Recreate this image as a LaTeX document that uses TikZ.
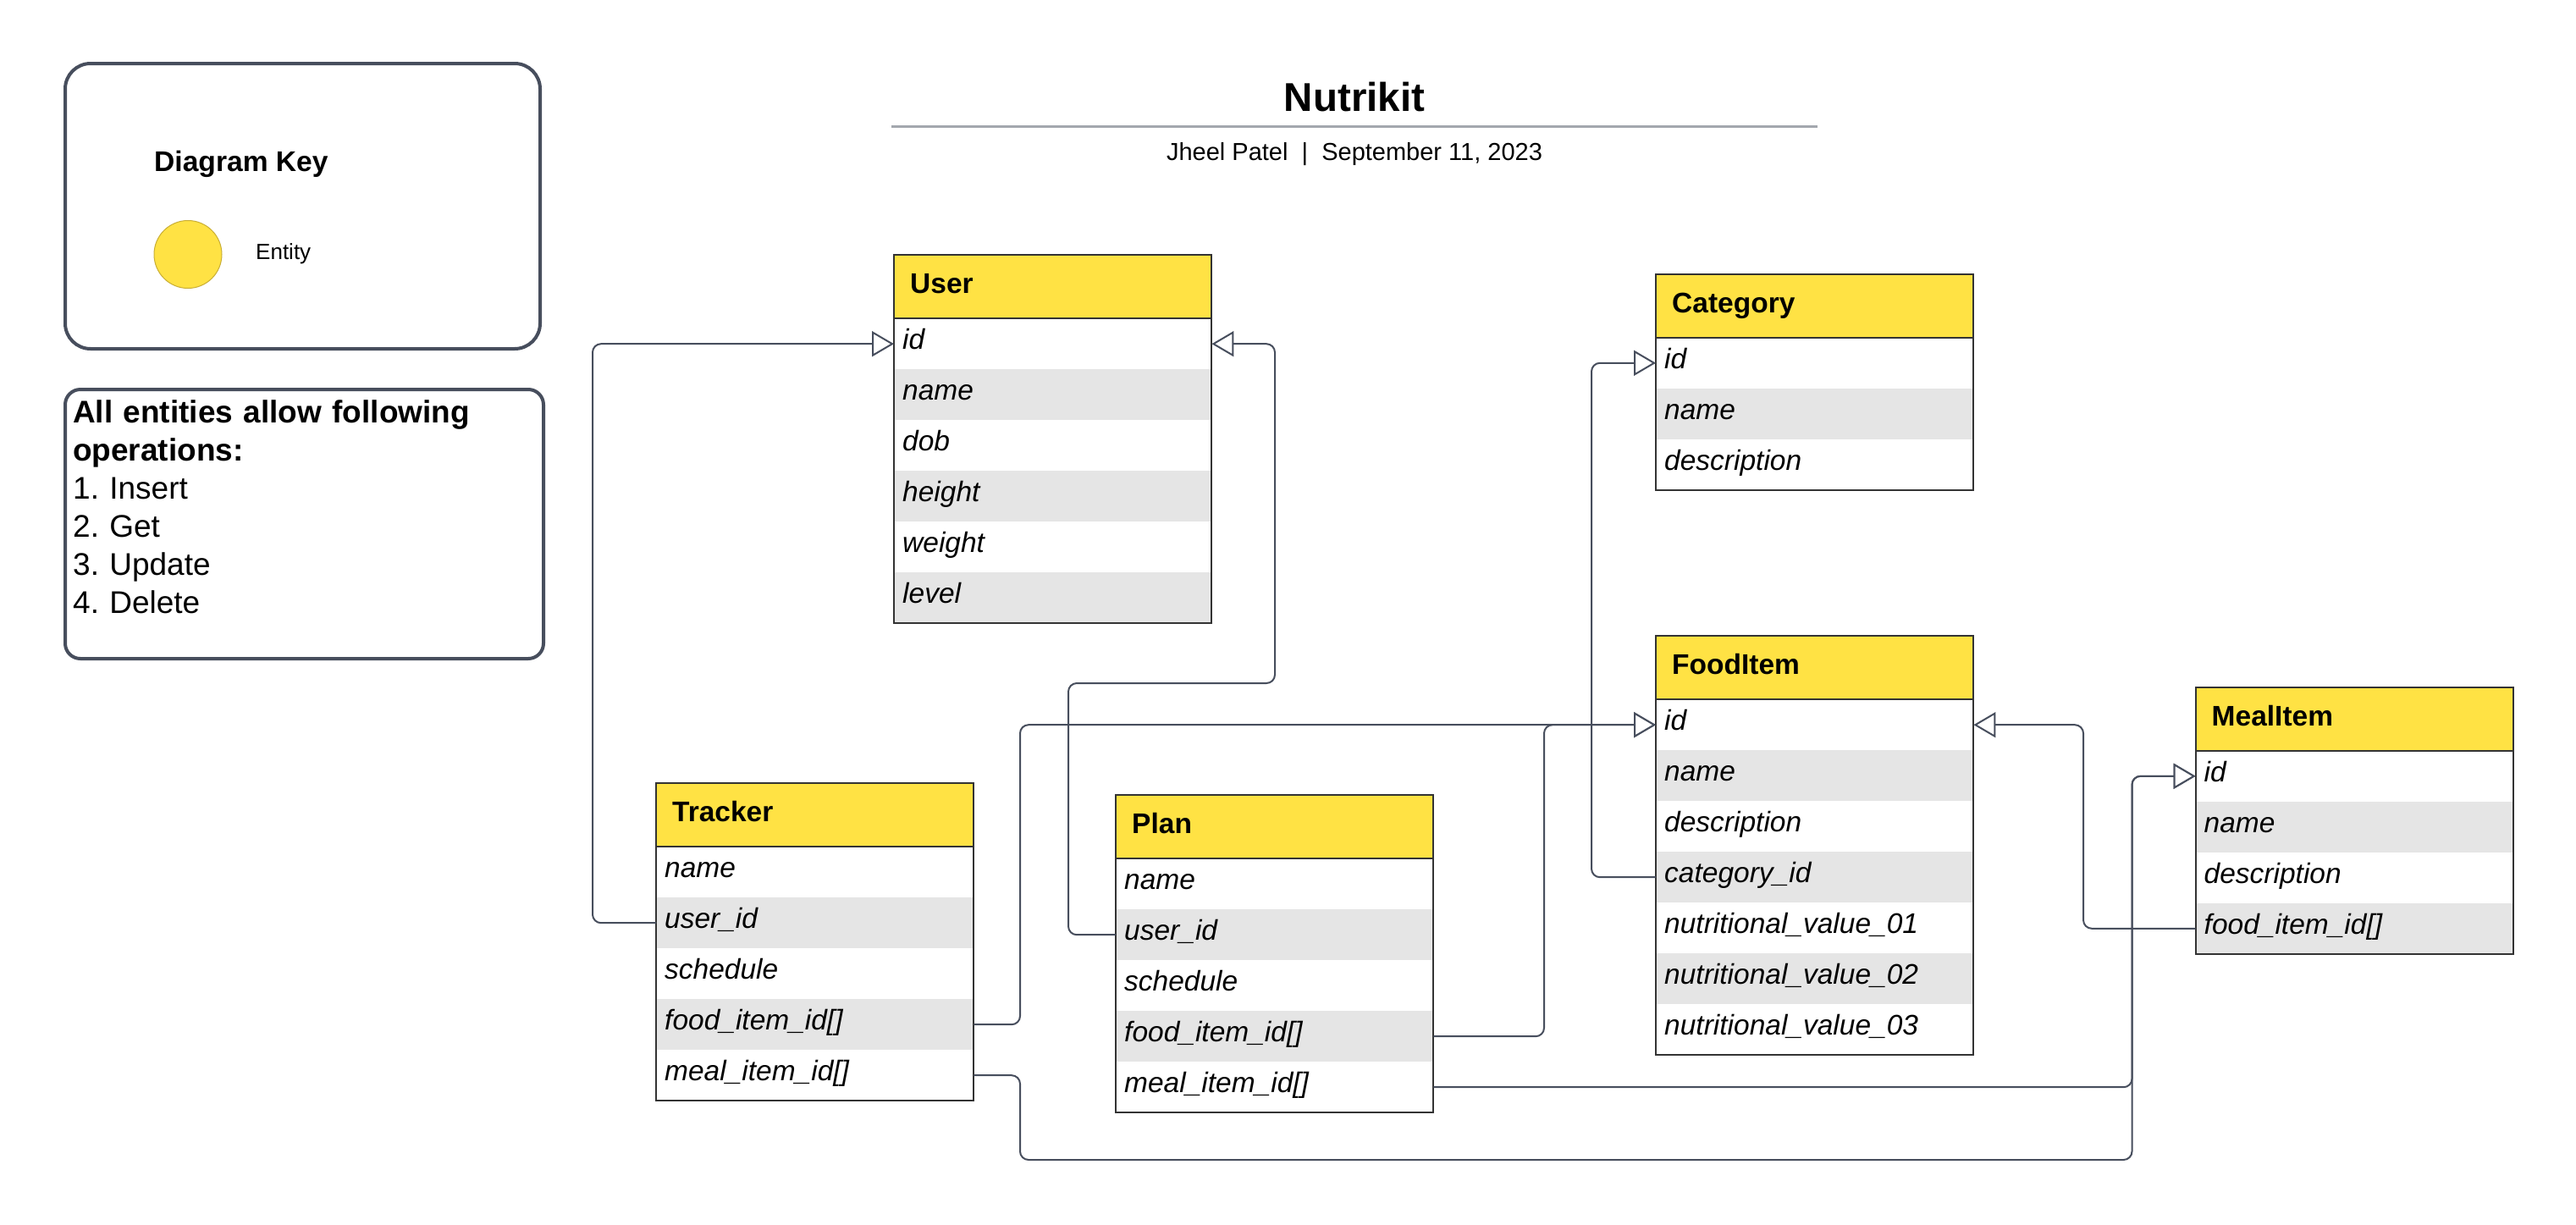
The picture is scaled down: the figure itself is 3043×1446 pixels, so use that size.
\documentclass[tikz,border=0pt]{standalone}
\usepackage{fontspec}
\setmainfont{Liberation Sans}
\frenchspacing
\usetikzlibrary{arrows.meta,calc}
\definecolor{hdr}{HTML}{FFE244}
\definecolor{stripe}{HTML}{E5E5E5}
\definecolor{bordc}{HTML}{333333}
\definecolor{connc}{HTML}{474E5D}
\definecolor{keyc}{HTML}{474E5D}
\definecolor{tline}{HTML}{A3A7AE}
\definecolor{circc}{HTML}{C9AE35}
\newcommand{\rowfont}{\fontsize{33.5}{40}\selectfont\itshape}
\newcommand{\hdrfont}{\fontsize{33.5}{40}\selectfont\bfseries}
\tikzset{
  hdrbox/.style={anchor=north west, minimum width=375pt, minimum height=75pt,
    fill=hdr, font=\hdrfont, text width=337pt, inner xsep=19pt, inner ysep=0pt,
    align=left, text height=24pt, text depth=8pt},
  rowbox/.style={anchor=north west, minimum height=60pt, text width=355pt,
    inner xsep=10pt, inner ysep=0pt, align=left, font=\rowfont,
    text height=22pt, text depth=9pt},
  border/.style={draw=bordc, line width=2pt},
  conn/.style={draw=connc, line width=2pt, rounded corners=10pt,
    -{Triangle[length=26pt,width=30pt,fill=white]}},
  keybox/.style={draw=keyc, line width=4pt, anchor=north west, inner sep=0pt},
}
\newcommand{\entbox}[5]{%
  \node[hdrbox] (#1) at (#2,#3) {#4};
  \foreach \k/\t [count=\i] in {#5} {
    \pgfmathsetmacro\yy{#3+75+(\i-1)*60}
    \ifodd\i\relax \def\rf{white}\else \def\rf{stripe}\fi
    \node[rowbox, fill=\rf] (#1-\k) at (#2,\yy) {\t};
    \xdef\lastrow{#1-\k}
  }
  \draw[border] (#1.north west) rectangle (\lastrow.south east);
  \draw[border] (#1.south west) -- (#1.south east);
}
\begin{document}
\begin{tikzpicture}[x=1pt,y=-1pt]
\useasboundingbox (0,0) rectangle (3043,1446);
\fill[white] (0,0) rectangle (3043,1446);

% key
\node[keybox, rounded corners=30pt, minimum width=561pt, minimum height=337pt] (keybox) at (75,73) {};
\node[anchor=base west, font=\fontsize{33.6}{40}\selectfont\bfseries, inner sep=0pt] (keytitle) at (182,202) {Diagram Key};
\node[circle, fill=hdr, draw=circc, line width=1pt, minimum size=80pt, inner sep=0pt] (keycirc) at (222,300.5) {};
\node[anchor=base west, font=\fontsize{26}{31}\selectfont, inner sep=0pt] (keyent) at (302,306) {Entity};

% operations
\node[keybox, rounded corners=18pt, minimum width=565pt, minimum height=318pt] (opsbox) at (75,458) {};
\node[anchor=north west, inner sep=0pt, text width=550pt, align=left,
  font=\fontsize{37}{45}\selectfont] (ops) at (86,472)
  {\textbf{All entities allow following}\\\textbf{operations:}\\1. Insert\\2. Get\\3. Update\\4. Delete};

% title
\node[anchor=base, font=\fontsize{47.5}{57}\selectfont\bfseries, inner sep=0pt] (title) at (1600,131) {Nutrikit};
\draw[tline, line width=3pt] (1053,149) -- (2147,149);
\node[anchor=base, font=\fontsize{29}{35}\selectfont, inner sep=0pt] (sub) at (1600,189) {Jheel Patel~~|~~September 11, 2023};

% entities
\entbox{u}{1056}{301}{User}{id/id, name/name, dob/dob, height/height, weight/weight, level/level}
\entbox{c}{1956}{323.6}{Category}{id/id, name/name, description/description}
\entbox{tr}{775}{925}{Tracker}{name/name, userid/user\_id, schedule/schedule, food/food\_item\_id[], meal/meal\_item\_id[]}
\entbox{pl}{1318}{939}{Plan}{name/name, userid/user\_id, schedule/schedule, food/food\_item\_id[], meal/meal\_item\_id[]}
\entbox{fi}{1956}{751}{FoodItem}{id/id, name/name, description/description, cat/category\_id, nv1/nutritional\_value\_01, nv2/nutritional\_value\_02, nv3/nutritional\_value\_03}
\entbox{mi}{2593.5}{811.6}{MealItem}{id/id, name/name, description/description, food/food\_item\_id[]}

% routing channels
\coordinate (v1) at (700,0);
\coordinate (v2) at (1262,0);
\coordinate (v3) at (1506,0);
\coordinate (v4) at (1205,0);
\coordinate (v5) at (1824,0);
\coordinate (v6) at (1880,0);
\coordinate (v7) at (2461,0);
\coordinate (v8) at (2518.5,0);
\coordinate (h1) at (0,807);
\coordinate (h2) at (0,1370);

% connectors
\draw[conn] (tr-userid.west) -| (v1 |- u-id.west) -- (u-id.west);
\draw[conn] (pl-userid.west) -| (v2 |- h1) -| (v3 |- u-id.east) -- (u-id.east);
\draw[conn] (tr-food.east) -| (v4 |- fi-id.west) -- (fi-id.west);
\draw[conn] (pl-food.east) -| (v5 |- fi-id.west) -- (fi-id.west);
\draw[conn] (tr-meal.east) -| (v4 |- h2) -| (v8 |- mi-id.west) -- (mi-id.west);
\draw[conn] (pl-meal.east) -| (v8 |- mi-id.west) -- (mi-id.west);
\draw[conn] (fi-cat.west) -| (v6 |- c-id.west) -- (c-id.west);
\draw[conn] (mi-food.west) -| (v7 |- fi-id.east) -- (fi-id.east);
\end{tikzpicture}
\end{document}
